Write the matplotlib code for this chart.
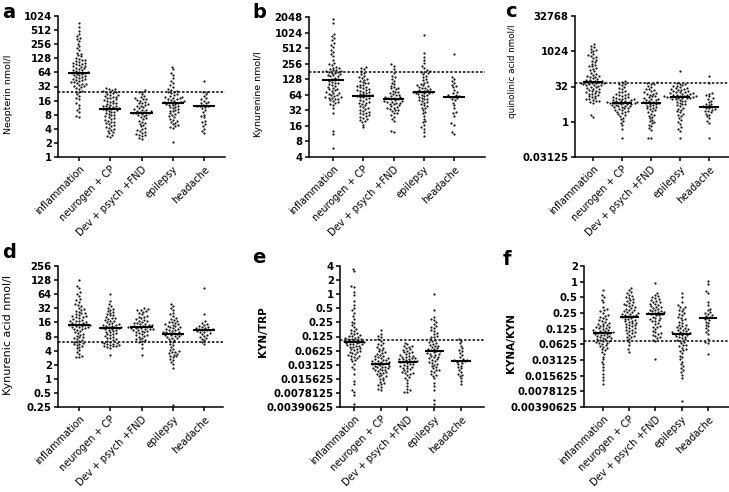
import numpy as np
import matplotlib
matplotlib.use("Agg")
import matplotlib.pyplot as plt
from matplotlib.ticker import FixedLocator, NullLocator

plt.rcParams['font.family'] = ['DejaVu Sans']

categories = ['inflammation', 'neurogen + CP', 'Dev + psych +FND', 'epilepsy', 'headache']

# ---------------- panel a : Neopterin nmol/l ----------------
neo_inflammation = [720, 600, 500, 420, 380, 350, 330, 300, 260, 230, 210, 190, 170, 160, 150, 140, 130,
                    125, 120, 116, 112, 108, 104, 100, 98, 95, 92, 88, 86, 83, 80, 78, 75, 73, 71, 68, 66, 65,
                    63, 61, 60, 58, 56, 55, 53, 52, 50, 48, 47, 46, 44, 43, 42, 40, 39.5, 38, 36.5, 36, 34.5,
                    33, 32.5, 31, 30, 28, 26, 25, 24, 22, 20, 18, 17, 14, 13, 11, 10, 9, 7.5, 7.2]
neo_neurogen = [30, 29, 28, 27, 26, 25, 24.5, 24, 23, 22, 21.5, 21, 20, 19.5, 19, 18.5, 18, 17, 16.5, 16,
                15.5, 15, 14.5, 14, 13.5, 13, 12.5, 12.2, 12, 11.8, 11.5, 11, 10.8, 10.6, 10.2, 10, 9.7,
                9.3, 9, 8.7, 8.4, 8, 7.7, 7.4, 7.1, 6.8, 6.5, 6.2, 6, 5.7, 5.5, 5.2, 5, 4.8, 4.6, 4.4, 4.2,
                4, 3.8, 3.6, 3.4, 3.2, 3, 2.8, 2.7]
neo_dev = [27, 25, 24, 22, 20, 19, 18, 17.5, 17, 16.5, 16, 15, 14.5, 14, 13.5, 13, 12.5, 12, 11.5, 11, 10.5,
           10.2, 10, 9.7, 9.4, 9.2, 9, 8.8, 8.6, 8.5, 8.2, 8, 7.7, 7.4, 7, 6.7, 6.4, 6, 5.7, 5.4, 5.1, 4.8,
           4.5, 4.2, 4, 3.8, 3.6, 3.4, 3.2, 3.1, 3, 2.9, 2.8, 2.6, 2.4]
neo_epilepsy = [85, 75, 62, 55, 48, 42, 38, 34, 31, 28, 27, 26, 25, 24, 23, 22, 21, 20, 19.5, 19, 18.5, 18,
                17.6, 17.2, 16.5, 16, 15.5, 15, 14.8, 14.6, 14.4, 14.2, 13.8, 13.4, 13, 12.6, 12.2, 11.8,
                11.4, 11, 10.6, 10.2, 9.8, 9.4, 9, 8.6, 8.2, 7.8, 7.4, 7, 6.6, 6.2, 5.9, 5.6, 5.3, 5, 4.8,
                4.6, 4.4, 4.2, 2.1]
neo_headache = [42, 25, 24, 22, 20, 18, 17, 16, 15, 14.5, 14, 13, 12.5, 12.2, 12,
                11.8, 11, 10, 9, 8, 7.5, 7, 6, 5.5, 5, 4.5, 4, 3.6, 3.3]

# ---------------- panel b : Kynurenine nmol/l ----------------
kyn_inflammation = [1900, 1600, 950, 880, 800, 720, 650, 600, 540, 480, 440, 400, 360, 300, 260, 250, 240,
                    225, 215, 210, 200, 195, 190, 186, 182, 178, 175, 171, 168, 160, 156, 152, 148, 145, 138,
                    132, 127, 122, 118, 114, 110, 106, 102, 98, 94, 90, 87, 84, 81, 78, 75, 72, 70, 68, 66,
                    64, 62, 60, 58, 57, 56, 55, 54, 52, 50, 48, 46, 44, 42, 40, 35, 28, 13, 11, 6]
kyn_neurogen = [220, 210, 200, 185, 170, 160, 150, 140, 135, 130, 124, 118, 112, 109, 106, 101, 97, 93, 91,
                89, 86, 83, 80, 78, 77, 74, 71, 69, 67, 65, 63, 62, 61.5, 60, 58.5, 57, 55, 53, 51, 49, 47,
                45, 43.5, 42, 40, 38.5, 37, 35.5, 34, 32.5, 31, 30, 29, 28, 27, 26, 25, 24, 23, 22, 21, 20,
                19, 17, 15]
kyn_dev = [250, 235, 200, 170, 150, 140, 132, 120, 110, 102, 96, 90, 87, 85, 81, 77, 74, 71, 68, 66, 64, 62,
           60, 58, 57, 56.5, 55, 53.5, 52, 50.5, 49, 48, 47, 46, 45, 44, 43, 42, 40, 38.5, 37, 36, 35, 34,
           33, 32, 30.5, 29, 28, 26, 24, 22, 20, 13, 12]
kyn_epilepsy = [900, 420, 350, 300, 260, 230, 210, 192, 182, 178, 174, 166, 158, 150, 140, 130, 122, 115,
                109, 104, 99, 97, 95, 91, 88, 85, 82, 80, 79, 76.5, 74, 73, 72, 70, 69, 68, 66, 64, 62, 60,
                58, 56, 54, 52, 50, 48, 47, 45, 42, 40, 38, 36, 35, 32, 30, 28, 25, 22, 20, 19, 17, 15, 14,
                12, 10]
kyn_headache = [400, 140, 130, 120, 110, 100, 95, 90, 80, 72, 68, 64, 62, 60, 58,
                57, 55, 52, 50, 45, 40, 35, 30, 28, 25, 18, 17, 12, 11]

# ---------------- panel c : quinolinic acid nmol/l ----------------
qa_inflammation = [2000, 1800, 1500, 1300, 1200, 1100, 950, 800, 700, 650, 600, 520, 450, 400, 350, 300, 260,
                   240, 230, 200, 180, 160, 140, 125, 112, 100, 92, 88, 85, 78, 72, 67, 62, 58, 55, 53, 52,
                   49, 47, 46, 44, 43, 41, 40, 38, 37, 36, 34, 32, 30, 28, 26, 24.5, 23, 21.5, 20, 19, 18,
                   17, 16, 15, 14, 13, 12, 11, 10, 9.5, 9, 8.5, 8, 7.5, 7, 6.5, 2, 1.6]
qa_neurogen = [55, 48, 42, 40, 36, 30, 27, 25, 21, 19.5, 18, 16, 15, 14.5, 13.5, 12.5, 11.7, 11, 10.4, 10.1,
               9.8, 9.3, 9, 8.8, 8.4, 8, 7.7, 7.4, 7.2, 7.1, 6.8, 6.6, 6.5, 6.4, 6.3, 6.1, 5.9, 5.7, 5.5,
               5.3, 5.1, 4.9, 4.7, 4.5, 4.3, 4.1, 3.9, 3.7, 3.5, 3.3, 3.1, 2.9, 2.7, 2.5, 2.3, 2.1, 1.9,
               1.7, 1.5, 1.3, 1.1, 0.9, 0.7, 0.5, 0.2]
qa_dev = [50, 45, 42, 40, 35, 30, 26, 24, 22, 20, 18, 17, 16, 15, 14.5, 13, 12, 11, 10, 9.8, 9.3, 8.7, 8.1,
          7.6, 7.1, 6.7, 6.5, 6.3, 6, 5.6, 5.2, 4.9, 4.6, 4.3, 4, 3.7, 3.4, 3.1, 2.8, 2.5, 2.2, 2, 1.8, 1.6,
          1.4, 1.2, 1.05, 0.95, 0.85, 0.75, 0.65, 0.55, 0.45, 0.2, 0.2]
qa_epilepsy = [150, 45, 42, 40, 36, 34, 33, 30, 28, 27, 26, 24, 23, 22.5, 21, 20, 19, 18.5, 18, 17, 16.5, 16,
               15.2, 14.5, 14, 13.8, 13.2, 12.6, 12.3, 12, 11.7, 11.5, 11.3, 11, 10.8, 10.5, 10.2, 10, 9.5,
               9, 8.5, 8, 7.5, 7, 6.5, 6, 5.5, 5, 4.5, 4, 3.6, 3.2, 2.8, 2.5, 2.2, 2, 1.8, 1.5, 1.2, 1, 0.8,
               0.6, 0.5, 0.4, 0.2]
qa_headache = [90, 45, 17, 16, 14, 12, 10, 9, 8, 7, 6, 5.5, 5, 4.6, 4.3,
               4, 3.8, 3.5, 3.2, 3, 2.8, 2.5, 2.2, 2, 1.7, 1.4, 1.1, 0.9, 0.2]

# ---------------- panel d : Kynurenic acid nmol/l ----------------
kyna_inflammation = [130, 95, 85, 70, 65, 58, 50, 47, 44, 40, 38, 36, 33, 31, 30, 28, 27, 26, 25, 24.5, 23,
                     22, 21.5, 21, 20.5, 20, 19, 18.2, 17.5, 17, 16.8, 16.2, 15.6, 15.3, 15, 14.5, 14.2, 14,
                     13.8, 13.5, 13.2, 13, 12.8, 12.5, 12, 11.8, 11.5, 11, 10.5, 10, 9.6, 9.2, 8.8, 8.4, 8,
                     7.7, 7.4, 7.1, 6.8, 6.5, 6.2, 6, 5.8, 5.6, 5.4, 5.2, 5, 4.8, 4.5, 4.2, 3.8, 3.4, 3, 2.9,
                     2.9]
kyna_neurogen = [65, 45, 40, 36, 33, 31, 30, 28, 27, 26, 24, 23, 22.5, 21, 20, 19.5, 19, 18, 17.5, 17, 16.2,
                 15.5, 15, 14.8, 14.2, 14, 13.6, 13.3, 13, 12.8, 12.5, 12.2, 12, 11.8, 11.5, 11.2, 11, 10.5,
                 10.2, 10, 9.5, 9.2, 9, 8.6, 8.2, 7.8, 7.6, 7.4, 7, 6.7, 6.4, 6.2, 6.1, 5.9, 5.7, 5.6, 5.5,
                 5.3, 5.2, 5.1, 5, 4.9, 4.8, 4.6, 3.3]
kyna_dev = [32, 31, 30, 29, 28, 27, 26, 24, 22, 21, 20.5, 19.5, 18.5, 18, 17.5, 16.8, 16.2, 15.6, 15.3, 15,
            14.5, 14, 13.9, 13.6, 13.2, 13, 12.8, 12.5, 12.2, 12.1, 11.9, 11.6, 11.4, 11.3, 11, 10.8, 10.7,
            10.4, 10, 9.8, 9.6, 9.2, 8.8, 8.6, 8.4, 8, 7.6, 7.2, 7, 6.8, 6.4, 6, 5.5, 4.5, 3.3]
kyna_epilepsy = [40, 36, 33, 30, 26, 24, 22, 20, 19, 18, 17, 16.6, 16.2, 15.5, 14.8, 14.5, 14.2, 13.6, 13.3,
                 13, 12.5, 12, 11.8, 11.5, 11, 10.8, 10.6, 10.2, 10, 9.8, 9.6, 9.4, 9.2, 9, 8.8, 8.6, 8.3,
                 8.1, 8, 7.6, 7.4, 7.2, 6.8, 6.4, 6, 5.6, 5.2, 4.8, 4.4, 4.1, 3.9, 3.8, 3.7, 3.5, 3.4, 3.3,
                 3.1, 3, 2.9, 2.7, 2.5, 2.3, 2.1, 1.7, 0.28]
kyna_headache = [85, 24, 17, 15.5, 14.5, 14, 13.5, 13, 12.5, 12.2, 11.9, 11.6, 11.3, 11.1, 11,
                 10.8, 10.5, 10.2, 10, 9.6, 9.2, 8.8, 8.4, 8, 7.6, 7.2, 6.8, 6.2, 5.6]

# ---------------- panel e : KYN/TRP ----------------
kt_inflammation = [3.5, 3.1, 1.5, 1.4, 1.1, 0.95, 0.7, 0.6, 0.5, 0.45, 0.4, 0.34, 0.3, 0.26, 0.24, 0.22, 0.2,
                   0.18, 0.17, 0.165, 0.15, 0.145, 0.14, 0.135, 0.13, 0.127, 0.123, 0.119, 0.116, 0.113,
                   0.11, 0.108, 0.105, 0.102, 0.1, 0.098, 0.096, 0.094, 0.092, 0.09, 0.088, 0.086, 0.085,
                   0.082, 0.08, 0.079, 0.076, 0.073, 0.07, 0.068, 0.067, 0.064, 0.061, 0.059, 0.058, 0.055,
                   0.052, 0.05, 0.049, 0.048, 0.046, 0.044, 0.042, 0.04, 0.037, 0.033, 0.028, 0.025, 0.02,
                   0.014, 0.012, 0.009, 0.008, 0.007, 0.0045]
kt_neurogen = [0.17, 0.14, 0.13, 0.12, 0.11, 0.1, 0.09, 0.086, 0.082, 0.075, 0.072, 0.069, 0.064, 0.06, 0.058,
               0.056, 0.053, 0.05, 0.048, 0.047, 0.045, 0.044, 0.043, 0.041, 0.04, 0.039, 0.038, 0.037,
               0.036, 0.0355, 0.0345, 0.034, 0.033, 0.032, 0.0318, 0.0306, 0.03, 0.0295, 0.0285, 0.028,
               0.0275, 0.0265, 0.026, 0.0255, 0.0245, 0.024, 0.0235, 0.0225, 0.0215, 0.021, 0.0205, 0.0195,
               0.0185, 0.018, 0.0175, 0.0165, 0.0155, 0.0145, 0.0135, 0.0125, 0.012, 0.0115, 0.0105,
               0.0095, 0.009]
kt_dev = [0.09, 0.085, 0.08, 0.078, 0.075, 0.07, 0.066, 0.064, 0.062, 0.058, 0.057, 0.055, 0.052, 0.05, 0.049,
          0.048, 0.046, 0.045, 0.044, 0.043, 0.042, 0.041, 0.0405, 0.039, 0.038, 0.0375, 0.0368, 0.036,
          0.0352, 0.0345, 0.033, 0.032, 0.0315, 0.03, 0.0287, 0.0275, 0.027, 0.0263, 0.025, 0.024, 0.023,
          0.022, 0.021, 0.021, 0.02, 0.019, 0.017, 0.016, 0.015, 0.013, 0.011, 0.0095, 0.0088, 0.0082,
          0.008]
kt_epilepsy = [1.0, 0.45, 0.32, 0.3, 0.28, 0.25, 0.23, 0.21, 0.2, 0.19, 0.17, 0.16, 0.15, 0.14, 0.13, 0.125,
               0.12, 0.11, 0.105, 0.1, 0.094, 0.091, 0.088, 0.083, 0.08, 0.078, 0.074, 0.07, 0.068, 0.066,
               0.063, 0.061, 0.06, 0.057, 0.056, 0.054, 0.052, 0.051, 0.048, 0.046, 0.045, 0.043, 0.041,
               0.039, 0.037, 0.035, 0.034, 0.033, 0.031, 0.029, 0.0275, 0.026, 0.0245, 0.024, 0.023,
               0.0215, 0.02, 0.019, 0.018, 0.016, 0.013, 0.011, 0.009, 0.0055, 0.0045]
kt_headache = [0.11, 0.1, 0.09, 0.08, 0.07, 0.065, 0.06, 0.055, 0.05, 0.045, 0.042, 0.04, 0.039, 0.038, 0.037,
               0.036, 0.034, 0.032, 0.03, 0.028, 0.026, 0.024, 0.022, 0.02, 0.019, 0.018, 0.016, 0.014, 0.012]

# ---------------- panel f : KYNA/KYN ----------------
kk_inflammation = [0.7, 0.55, 0.5, 0.45, 0.4, 0.32, 0.3, 0.28, 0.27, 0.25, 0.23, 0.22, 0.21, 0.2, 0.19, 0.18,
                   0.175, 0.17, 0.16, 0.155, 0.152, 0.145, 0.142, 0.138, 0.135, 0.132, 0.129, 0.126, 0.123,
                   0.12, 0.118, 0.115, 0.113, 0.11, 0.108, 0.106, 0.104, 0.102, 0.1, 0.098, 0.096, 0.094,
                   0.092, 0.09, 0.087, 0.085, 0.084, 0.081, 0.079, 0.078, 0.075, 0.073, 0.072, 0.069, 0.067,
                   0.066, 0.063, 0.06, 0.058, 0.056, 0.052, 0.05, 0.048, 0.044, 0.04, 0.036, 0.032, 0.029,
                   0.026, 0.023, 0.02, 0.017, 0.015, 0.013, 0.011]
kk_neurogen = [0.75, 0.68, 0.62, 0.6, 0.56, 0.52, 0.5, 0.49, 0.46, 0.44, 0.43, 0.4, 0.39, 0.38, 0.36, 0.35,
               0.34, 0.32, 0.31, 0.3, 0.285, 0.28, 0.27, 0.263, 0.258, 0.246, 0.24, 0.235, 0.23, 0.225,
               0.22, 0.215, 0.205, 0.2, 0.196, 0.19, 0.187, 0.178, 0.174, 0.17, 0.162, 0.158, 0.155, 0.148,
               0.144, 0.141, 0.134, 0.13, 0.127, 0.12, 0.117, 0.114, 0.108, 0.105, 0.102, 0.096, 0.09,
               0.088, 0.085, 0.08, 0.075, 0.07, 0.06, 0.05, 0.045]
kk_dev = [0.95, 0.6, 0.55, 0.52, 0.5, 0.49, 0.46, 0.44, 0.43, 0.41, 0.4, 0.38, 0.37, 0.36, 0.34, 0.33, 0.32,
          0.31, 0.3, 0.29, 0.285, 0.275, 0.27, 0.263, 0.258, 0.252, 0.247, 0.24, 0.236, 0.23, 0.225, 0.214,
          0.203, 0.197, 0.192, 0.182, 0.177, 0.172, 0.162, 0.152, 0.142, 0.137, 0.132, 0.123, 0.115, 0.108,
          0.101, 0.098, 0.095, 0.09, 0.085, 0.081, 0.077, 0.073, 0.033]
kk_epilepsy = [0.6, 0.5, 0.4, 0.35, 0.33, 0.32, 0.3, 0.28, 0.27, 0.25, 0.24, 0.23, 0.21, 0.2, 0.19, 0.18, 0.17,
               0.16, 0.15, 0.145, 0.14, 0.133, 0.13, 0.127, 0.121, 0.119, 0.116, 0.111, 0.109, 0.106,
               0.104, 0.102, 0.1, 0.098, 0.096, 0.094, 0.09, 0.088, 0.086, 0.082, 0.078, 0.076, 0.074, 0.07,
               0.066, 0.062, 0.06, 0.058, 0.054, 0.05, 0.048, 0.046, 0.042, 0.038, 0.035, 0.032, 0.029,
               0.026, 0.024, 0.022, 0.02, 0.018, 0.016, 0.014, 0.005]
kk_headache = [1.05, 0.9, 0.65, 0.6, 0.4, 0.35, 0.3, 0.28, 0.26, 0.25, 0.24, 0.23, 0.22, 0.21, 0.2,
               0.19, 0.18, 0.17, 0.16, 0.15, 0.14, 0.13, 0.12, 0.11, 0.1, 0.08, 0.07, 0.065, 0.04]

# y-axis ticks and labels
ticks_a = [1, 2, 4, 8, 16, 32, 64, 128, 256, 512, 1024]
labels_a = ['1', '2', '4', '8', '16', '32', '64', '128', '256', '512', '1024']
ticks_b = [4, 8, 16, 32, 64, 128, 256, 512, 1024, 2048]
labels_b = ['4', '8', '16', '32', '64', '128', '256', '512', '1024', '2048']
ticks_c = [0.03125, 1, 32, 1024, 32768]
labels_c = ['0.03125', '1', '32', '1024', '32768']
ticks_d = [0.25, 0.5, 1, 2, 4, 8, 16, 32, 64, 128, 256]
labels_d = ['0.25', '0.5', '1', '2', '4', '8', '16', '32', '64', '128', '256']
ticks_e = [0.00390625, 0.0078125, 0.015625, 0.03125, 0.0625, 0.125, 0.25, 0.5, 1, 2, 4]
labels_e = ['0.00390625', '0.0078125', '0.015625', '0.03125', '0.0625', '0.125', '0.25', '0.5', '1', '2', '4']
ticks_f = [0.00390625, 0.0078125, 0.015625, 0.03125, 0.0625, 0.125, 0.25, 0.5, 1, 2]
labels_f = ['0.00390625', '0.0078125', '0.015625', '0.03125', '0.0625', '0.125', '0.25', '0.5', '1', '2']

# reference (dotted) lines
cutoffs = {'a': 25, 'b': 175, 'c': 45, 'd': 6.0, 'e': 0.104, 'f': 0.072}

W, H = 729, 492
fig = plt.figure(figsize=(W / 100, H / 100), dpi=100)

panels = [
    dict(key='a', groups=[neo_inflammation, neo_neurogen, neo_dev, neo_epilepsy, neo_headache],
         ticks=ticks_a, labels=labels_a, ylabel='Neopterin nmol/l', yl_size=6.8, yl_weight='normal',
         rect=(58, 225, 16, 157), xlim=(-0.67, 4.67), yl_pos=(13, 94), letter_pos=(2, 18)),
    dict(key='b', groups=[kyn_inflammation, kyn_neurogen, kyn_dev, kyn_epilepsy, kyn_headache],
         ticks=ticks_b, labels=labels_b, ylabel='Kynurenine nmol/l', yl_size=6.8, yl_weight='normal',
         rect=(309, 485, 17, 157), xlim=(-0.79, 5.02), yl_pos=(263, 94), letter_pos=(252, 18)),
    dict(key='c', groups=[qa_inflammation, qa_neurogen, qa_dev, qa_epilepsy, qa_headache],
         ticks=ticks_c, labels=labels_c, ylabel='quinolinic acid nmol/l', yl_size=6.3, yl_weight='normal',
         rect=(575, 729, 16, 157), xlim=(-0.62, 4.69), yl_pos=(517, 71), letter_pos=(505, 17)),
    dict(key='d', groups=[kyna_inflammation, kyna_neurogen, kyna_dev, kyna_epilepsy, kyna_headache],
         ticks=ticks_d, labels=labels_d, ylabel='Kynurenic acid nmol/l', yl_size=8.0, yl_weight='normal',
         rect=(58, 223, 266, 407), xlim=(-0.67, 4.6), yl_pos=(13, 335), letter_pos=(2, 258)),
    dict(key='e', groups=[kt_inflammation, kt_neurogen, kt_dev, kt_epilepsy, kt_headache],
         ticks=ticks_e, labels=labels_e, ylabel='KYN/TRP', yl_size=7.5, yl_weight='bold',
         rect=(340, 484, 266, 407), xlim=(-0.52, 4.86), yl_pos=(268, 332), letter_pos=(252, 263)),
    dict(key='f', groups=[kk_inflammation, kk_neurogen, kk_dev, kk_epilepsy, kk_headache],
         ticks=ticks_f, labels=labels_f, ylabel='KYNA/KYN', yl_size=7.5, yl_weight='bold',
         rect=(584, 729, 266, 407), xlim=(-0.72, 4.8), yl_pos=(516, 343), letter_pos=(503, 265)),
]

SX, SY = 3.2, 2.7  # swarm collision spacing in pixels (x, y)


def swarm(ax, x0, values):
    vals = np.asarray(values, dtype=float)
    pts = ax.transData.transform(np.column_stack([np.full(len(vals), x0), vals]))
    xc = pts[0, 0]
    ypx = pts[:, 1]
    order = np.argsort(ypx)
    px_list, py_list = [], []
    offs = np.zeros(len(vals))
    for i in order:
        y = ypx[i]
        intervals = []
        cands = [0.0]
        for px, py in zip(px_list, py_list):
            dy = abs(py - y)
            if dy < SY:
                hw = SX * np.sqrt(1 - (dy / SY) ** 2)
                intervals.append((px - hw, px + hw))
                cands += [px - hw, px + hw]
        cands = sorted(set(cands), key=lambda c: (abs(c), c))
        chosen = 0.0
        for c in cands:
            if all(not (lo + 1e-6 < c < hi - 1e-6) for lo, hi in intervals):
                chosen = c
                break
        px_list.append(chosen)
        py_list.append(y)
        offs[i] = chosen
    xs = ax.transData.inverted().transform(np.column_stack([xc + offs, ypx]))[:, 0]
    ax.scatter(xs, vals, s=2.6, color='#1a1a1a', linewidths=0, clip_on=False, zorder=3)


for p in panels:
    l, r, t, b = p['rect']
    ax = fig.add_axes([l / W, 1 - b / H, (r - l) / W, (b - t) / H])
    ax.set_yscale('log', base=2)
    ax.set_ylim(p['ticks'][0], p['ticks'][-1])
    ax.set_xlim(*p['xlim'])
    for sp in ['top', 'right']:
        ax.spines[sp].set_visible(False)
    for sp in ['left', 'bottom']:
        ax.spines[sp].set_linewidth(1.1)
    ax.yaxis.set_major_locator(FixedLocator(p['ticks']))
    ax.yaxis.set_minor_locator(NullLocator())
    ax.set_yticklabels(p['labels'], fontsize=7.3, fontweight='bold')
    ax.set_xticks(range(len(categories)))
    ax.set_xticklabels(categories, rotation=45, ha='right', rotation_mode='anchor', fontsize=7)
    ax.tick_params(axis='y', length=3, width=1.1, pad=1.5)
    ax.tick_params(axis='x', length=3, width=1.1, pad=2)

    ax.axhline(cutoffs[p['key']], color='black', lw=1.1, ls=(0, (1.6, 1.2)), zorder=2)

    for i, g in enumerate(p['groups']):
        swarm(ax, i, g)
        med = np.median(g)
        ax.plot([i - 0.36, i + 0.36], [med, med], color='black', lw=1.5, zorder=4, solid_capstyle='butt')

    ax.set_ylabel(p['ylabel'], fontsize=p['yl_size'], fontweight=p['yl_weight'])
    ax.yaxis.set_label_coords(p['yl_pos'][0] / W, 1 - p['yl_pos'][1] / H, transform=fig.transFigure)

    fig.text(p['letter_pos'][0] / W, 1 - p['letter_pos'][1] / H, p['key'], fontsize=14,
             fontweight='bold', va='baseline', ha='left')

fig.savefig('out.png', dpi=100)
